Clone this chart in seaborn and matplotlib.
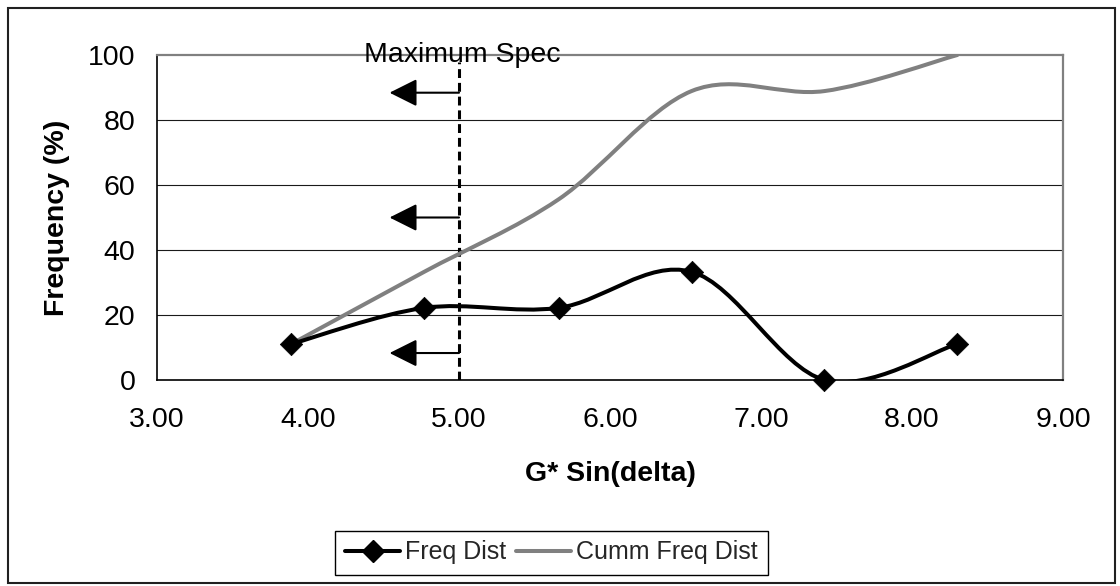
import numpy as np
import matplotlib
matplotlib.use("Agg")
import matplotlib.pyplot as plt
from matplotlib.path import Path
from matplotlib.patches import PathPatch, Rectangle, FancyArrowPatch
from matplotlib.lines import Line2D
import seaborn as sns

# G* sin(delta) bin positions and distributions (%)
g_sin_delta = [3.89, 4.77, 5.66, 6.54, 7.42, 8.30]
freq_dist = [11.1, 22.2, 22.2, 33.3, 0.0, 11.1]
cumm_freq_dist = [11.1, 33.3, 55.6, 88.9, 88.9, 100.0]
series_labels = ["Freq Dist", "Cumm Freq Dist"]

# specification limit and the levels of the "below spec" arrows
spec_max = 5.0
spec_label = "Maximum Spec"
arrow_levels = [88.4, 50.0, 8.3]
arrow_tip_x = 4.54

x_ticks = [3, 4, 5, 6, 7, 8, 9]
y_ticks = [0, 20, 40, 60, 80, 100]

sns.set_theme(style="white")
plt.rcParams["font.family"] = ["Liberation Sans", "DejaVu Sans"]

W, H = 1120, 586
fig = plt.figure(figsize=(W / 100, H / 100), dpi=100)
ax = fig.add_axes([157 / W, 1 - 380 / H, (1063 - 157) / W, (380 - 55) / H])
ax.set_xlim(3, 9)
ax.set_ylim(0, 100)


def smooth_path(xs, ys):
    """Cubic Bezier path through the points (spreadsheet-style smoothed line)."""
    pts = np.column_stack([xs, ys]).astype(float)
    n = len(pts)
    verts = [pts[0]]
    codes = [Path.MOVETO]
    for i in range(n - 1):
        p0 = pts[i - 1] if i > 0 else pts[i]
        p1 = pts[i]
        p2 = pts[i + 1]
        p3 = pts[i + 2] if i + 2 < n else pts[i + 1]
        c1 = p1 + (p2 - p0) / 6.0
        c2 = p2 - (p3 - p1) / 6.0
        verts += [c1, c2, p2]
        codes += [Path.CURVE4] * 3
    return Path(verts, codes)


# grid, spines and ticks
for yv in y_ticks[1:-1]:
    ax.axhline(yv, color="#1a1a1a", lw=0.8, zorder=1)
for side in ("top", "right"):
    ax.spines[side].set_color("#808080")
    ax.spines[side].set_linewidth(1.6)
for side in ("left", "bottom"):
    ax.spines[side].set_color("black")
    ax.spines[side].set_linewidth(1.2)

ax.set_xticks(x_ticks)
ax.set_xticklabels([f"{v:.2f}" for v in x_ticks])
ax.set_yticks(y_ticks)
ax.tick_params(axis="both", direction="out", length=6.5, width=1, color="black",
               labelsize=20.5, labelcolor="black")
ax.tick_params(axis="x", pad=13)
ax.tick_params(axis="y", pad=9)

# specification line and arrows
ax.plot([spec_max, spec_max], [0, 97.8], color="black", lw=2.2,
        dashes=(2.9, 1.6), zorder=2, solid_capstyle="butt")
ax.text(spec_max + 0.02, 100, spec_label, ha="center", va="center",
        fontsize=20.5, color="black", zorder=5)
for lvl in arrow_levels:
    arr = FancyArrowPatch((spec_max, lvl), (arrow_tip_x, lvl),
                          arrowstyle="-|>,head_length=17,head_width=8.5",
                          mutation_scale=1, shrinkA=0, shrinkB=0,
                          color="black", lw=1.5, zorder=4)
    ax.add_patch(arr)

# smoothed series
ax.add_patch(PathPatch(smooth_path(g_sin_delta, cumm_freq_dist), fill=False,
                       edgecolor="#808080", lw=2.9, zorder=3, capstyle="round",
                       joinstyle="round"))
ax.add_patch(PathPatch(smooth_path(g_sin_delta, freq_dist), fill=False,
                       edgecolor="black", lw=2.9, zorder=3.5, capstyle="round",
                       joinstyle="round"))
sns.scatterplot(x=g_sin_delta, y=freq_dist, marker="D", s=130, color="black",
                edgecolor="black", linewidth=0.5, ax=ax, legend=False, zorder=6,
                clip_on=False)

# axis titles
ax.set_xlabel("G* Sin(delta)", fontsize=20.5, fontweight="bold", color="black")
ax.set_ylabel("Frequency (%)", fontsize=20.5, fontweight="bold", color="black")
ax.xaxis.set_label_coords(0.5, (380 - 474) / 325)
ax.xaxis.label.set_va("center")
ax.yaxis.set_label_coords((57 - 157) / 906, 0.5)
ax.yaxis.label.set_va("center")

# legend
handles = [
    Line2D([], [], color="black", lw=2.9, marker="D", markersize=11),
    Line2D([], [], color="#808080", lw=2.9),
]
leg = fig.legend(handles, series_labels, loc="center", ncol=2,
                 bbox_to_anchor=(551.5 / W, 1 - 552.5 / H), fontsize=18,
                 frameon=True, fancybox=False, framealpha=1, edgecolor="black",
                 handlelength=2.2, handletextpad=0.2, columnspacing=0.4,
                 borderpad=0.4, borderaxespad=0)
leg.get_frame().set_linewidth(1.0)

# chart border
fig.add_artist(Rectangle((8 / W, 1 - 583 / H), (1115 - 8) / W, (583 - 8) / H,
                         transform=fig.transFigure, fill=False,
                         edgecolor="#202020", lw=1.5))

fig.savefig("out.png", dpi=100)
